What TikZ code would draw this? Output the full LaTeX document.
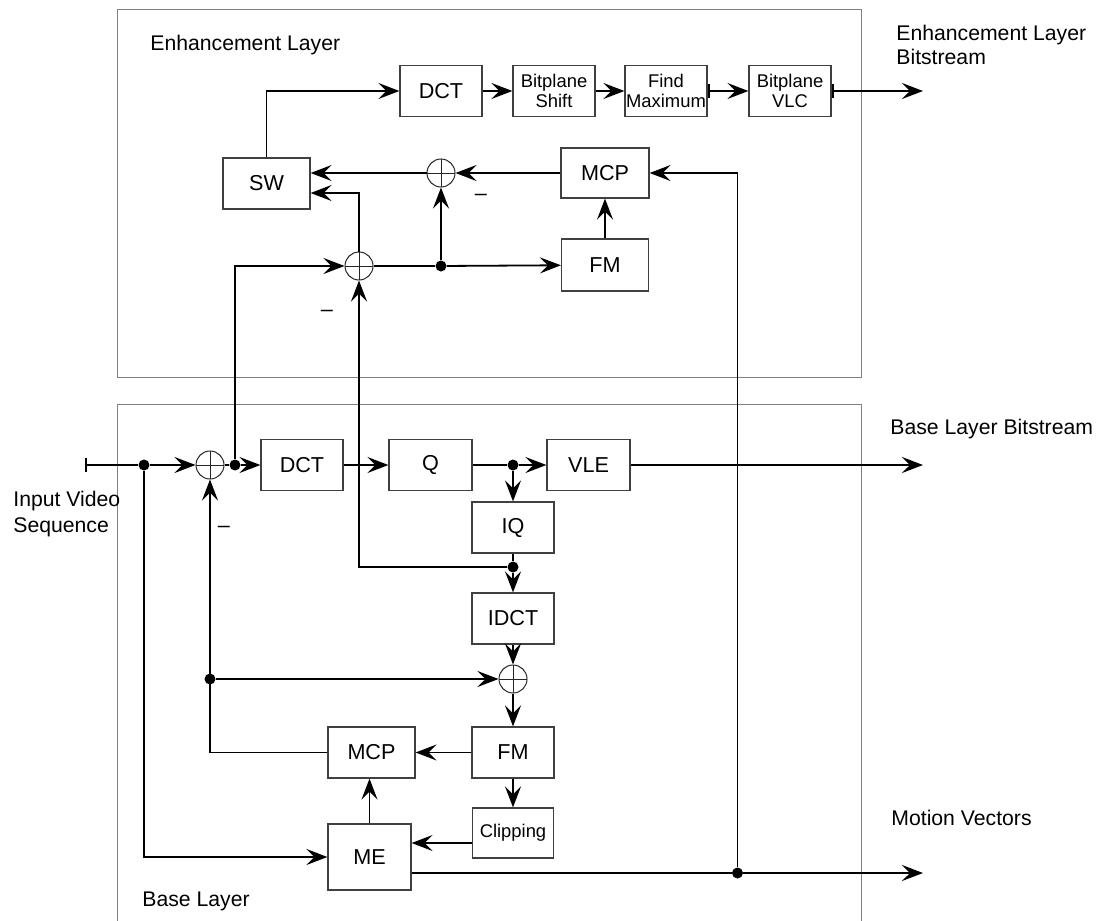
\documentclass[tikz,border=0pt]{standalone}
\usepackage{fontspec}
\setmainfont{Liberation Sans}
\usetikzlibrary{arrows.meta,calc}

\newcommand{\blocksize}{\fontsize{10.8}{12}\selectfont}
\newcommand{\smallsize}{\fontsize{9.2}{10.4}\selectfont}

\tikzset{
  block/.style={
    shape = rectangle,
    draw = black!75,
    line width = 0.6pt,
    inner sep = 0pt,
    minimum width = 41pt,
    minimum height = 25.5pt,
    align = center,
    font = \blocksize
  },
  smallblock/.style={
    block,
    font = \smallsize
  },
}
\tikzset{
  sumnode/.style={
    circle,
    draw = black!85,
    line width = 0.5pt,
    inner sep = 0pt,
    minimum size = 14pt,
    path picture={
      \draw[line width=0.5pt] (path picture bounding box.north) -- (path picture bounding box.south)
        (path picture bounding box.west) -- (path picture bounding box.east);
    }
  },
  dot/.style={
    circle,
    fill = black,
    inner sep = 0pt,
    minimum size = 5.5pt
  },
  wire/.style={
    line width = 0.9pt
  },
  link/.style={
    wire,
    -{Stealth[length=10.5pt,width=8pt,inset=4pt]}
  },
  barlink/.style={
    wire,
    {Bar[width=7pt,line width=1.3pt]}-{Stealth[length=10.5pt,width=8pt,inset=4pt]}
  },
  layerbox/.style={
    draw = black!50,
    line width = 0.5pt
  },
  txt/.style={
    anchor = base west,
    inner sep = 0pt,
    font = \fontsize{10.6}{12}\selectfont
  }
}

\begin{document}
\begin{tikzpicture}[x=0.5pt,y=-0.5pt]
    \useasboundingbox (0,0) rectangle (1098,921);
    % layer frames
    \draw[layerbox] (117,9) rectangle (861,377);
    \draw[layerbox] (117,930) |- (861,404) -- (861,930);
    \node[txt] (enhname) at (150,50.5) {Enhancement Layer};
    \node[txt] (basename) at (142,906.5) {Base Layer};
    \node[txt, anchor=north west, align=left] (enhbits) at (896,25) {Enhancement Layer\\Bitstream};
    \node[txt] (basebits) at (890,434.5) {Base Layer Bitstream};
    \node[txt] (mvname) at (891,825.5) {Motion Vectors};
    \node[txt, anchor=north west, align=left, font=\fontsize{10.6}{13}\selectfont] (inname) at (13,491) {Input Video\\Sequence};

    % enhancement layer
    \node[block] (dctE) at (441,91) {DCT};
    \node[smallblock] (shiftE) at (554,91) {Bitplane\\Shift};
    \node[smallblock] (findE) at (666,91) {Find\\Maximum};
    \node[smallblock] (vlcE) at (790,91) {Bitplane\\VLC};
    \node[block, minimum width=43.5pt] (sw) at (266.5,183.5) {SW};
    \node[block, minimum width=44pt, minimum height=25pt] (mcpE) at (605,173) {MCP};
    \node[block, minimum width=43.5pt, minimum height=26pt] (fmE) at (605,265) {FM};
    \node[sumnode] (sumT) at (441,173) {};
    \node[sumnode] (sumE) at (359,266) {};
    \node[dot] (denh) at (441,266) {};
    \node[font=\blocksize] (minT) at (481,197) {–};
    \node[font=\blocksize] (minE) at (327,313) {–};

    % base layer
    \coordinate (inp) at (85,465);
    \node[dot] (din) at (144,465) {};
    \node[sumnode] (sumB) at (210,465) {};
    \node[dot] (dsum) at (235,465) {};
    \node[block] (dctB) at (302,465) {DCT};
    \node[block, minimum width=41.5pt] (qB) at (430.5,465) {Q};
    \node[dot] (dq) at (513,465) {};
    \node[block, minimum width=41.5pt] (vleB) at (588.5,465) {VLE};
    \node[block] (iqB) at (513,527.5) {IQ};
    \node[dot] (diq) at (513,567) {};
    \node[block] (idctB) at (513,618.5) {IDCT};
    \node[sumnode] (sumR) at (513,679) {};
    \node[dot] (dfb) at (210,679) {};
    \node[block] (fmB) at (513,752.5) {FM};
    \node[block, minimum width=43.5pt] (mcpB) at (371.5,752.5) {MCP};
    \node[smallblock, minimum width=40.5pt, minimum height=25pt] (clip) at (513,833) {Clipping};
    \node[block, minimum width=41.5pt, minimum height=33pt] (me) at (369.5,857) {ME};
    \node[dot] (dmv) at (737.5,873) {};
    \node[font=\blocksize] (minB) at (224,529) {–};
    \coordinate (clipy) at (0,843);
    \coordinate (enhout) at (923,91);
    \coordinate (baseout) at (923,465);
    \coordinate (mvout) at (923,873);
    \coordinate (swlow) at ($(sw.east)+(0,9.5)$);

    % enhancement connectors
    \draw[link] (sw.north) |- (dctE.west);
    \draw[link] (dctE) -- (shiftE);
    \draw[link] (shiftE) -- (findE);
    \draw[barlink] (findE) -- (vlcE);
    \draw[barlink] (vlcE) -- (enhout);
    \draw[link] (mcpE) -- (sumT);
    \draw[link] (sumT) -- (sw.east |- sumT);
    \draw[link] (fmE) -- (mcpE);
    \draw[link] (denh) -- (sumT);
    \draw[link] (denh) -- (fmE);
    \draw[wire] (sumE) -- (denh);
    \draw[link] (sumE.north) |- (swlow);

    % base connectors
    \draw[wire, {Bar[width=7pt]}-] (inp) -- (din);
    \draw[link] (din) -- (sumB);
    \draw[wire] (sumB) -- (dsum);
    \draw[link] (dsum) -- (dctB);
    \draw[link] (dsum) |- (sumE);
    \draw[link] (dctB) -- (qB);
    \draw[wire] (qB) -- (dq);
    \draw[link] (dq) -- (vleB);
    \draw[link] (dq) -- (iqB);
    \draw[link] (vleB) -- (baseout);
    \draw[wire] (iqB) -- (diq);
    \draw[link] (diq) -- (idctB);
    \draw[link] (diq) -| (sumE);
    \draw[link] (idctB) -- (sumR);
    \draw[link] (dfb) -- (sumR);
    \draw[link] (mcpB) -| (sumB);
    \draw[link] (sumR) -- (fmB);
    \draw[link] (fmB) -- (mcpB);
    \draw[link] (fmB) -- (clip);
    \draw[link] (clip.west |- clipy) -- (me.east |- clipy);
    \draw[link] (me.north) -- (me.north |- mcpB.south);
    \draw[link] (din) |- (me);
    \draw[wire] (me.east |- dmv) -- (dmv);
    \draw[link] (dmv) -- (mvout);
    \draw[link] (dmv) |- (mcpE);
\end{tikzpicture}
\end{document}
